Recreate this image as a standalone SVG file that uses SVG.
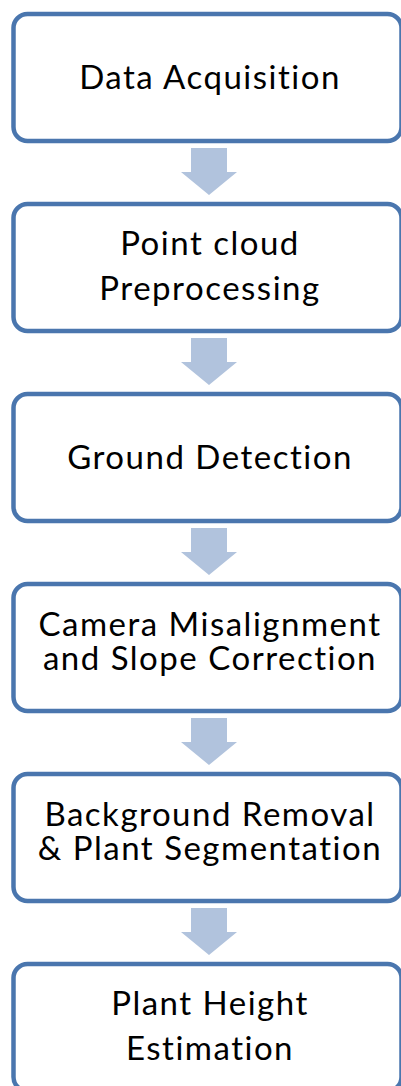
<svg xmlns="http://www.w3.org/2000/svg" width="401" height="1086" viewBox="0 0 401 1086">
  <defs>
    <style>
      .box { fill: #ffffff; stroke: #4a76ae; stroke-width: 4.5; }
      .lbl { font-family: Lato, "Open Sans", "Liberation Sans", sans-serif; font-size: 33px; letter-spacing: 1.5px; font-variant-ligatures: none; fill: #000000; text-anchor: middle; }
      .arrow { fill: #b1c3dd; }
    </style>
    <!-- block arrow pointing down, origin at top of shaft centre -->
    <path id="down" d="M-18,0 H18 V24 H28 L0,47 L-28,24 H-18 Z"/>
  </defs>
  <rect width="401" height="1086" fill="#ffffff"/>

  <g id="connectors" class="arrow">
    <use href="#down" x="209" y="148"/>
    <use href="#down" x="209" y="338"/>
    <use href="#down" x="209" y="528"/>
    <use href="#down" x="209" y="718"/>
    <use href="#down" x="209" y="908"/>
  </g>

  <g id="data-acquisition">
    <rect class="box" x="13.5" y="14" width="388" height="127" rx="14"/>
    <text class="lbl" x="210" y="89">Data Acquisition</text>
  </g>
  <g id="point-cloud-preprocessing">
    <rect class="box" x="13.5" y="204" width="388" height="127" rx="14"/>
    <text class="lbl" x="210" y="255">Point cloud</text>
    <text class="lbl" x="210" y="300">Preprocessing</text>
  </g>
  <g id="ground-detection">
    <rect class="box" x="13.5" y="394" width="388" height="127" rx="14"/>
    <text class="lbl" x="210" y="469">Ground Detection</text>
  </g>
  <g id="camera-slope-correction">
    <rect class="box" x="13.5" y="584" width="388" height="127" rx="14"/>
    <text class="lbl" x="210" y="636">Camera Misalignment</text>
    <text class="lbl" x="210" y="670">and Slope Correction</text>
  </g>
  <g id="background-removal">
    <rect class="box" x="13.5" y="774" width="388" height="127" rx="14"/>
    <text class="lbl" x="210" y="826">Background Removal</text>
    <text class="lbl" x="210" y="860">&amp; Plant Segmentation</text>
  </g>
  <g id="plant-height-estimation">
    <rect class="box" x="13.5" y="964" width="388" height="127" rx="14"/>
    <text class="lbl" x="210" y="1015">Plant Height</text>
    <text class="lbl" x="210" y="1060">Estimation</text>
  </g>
</svg>
